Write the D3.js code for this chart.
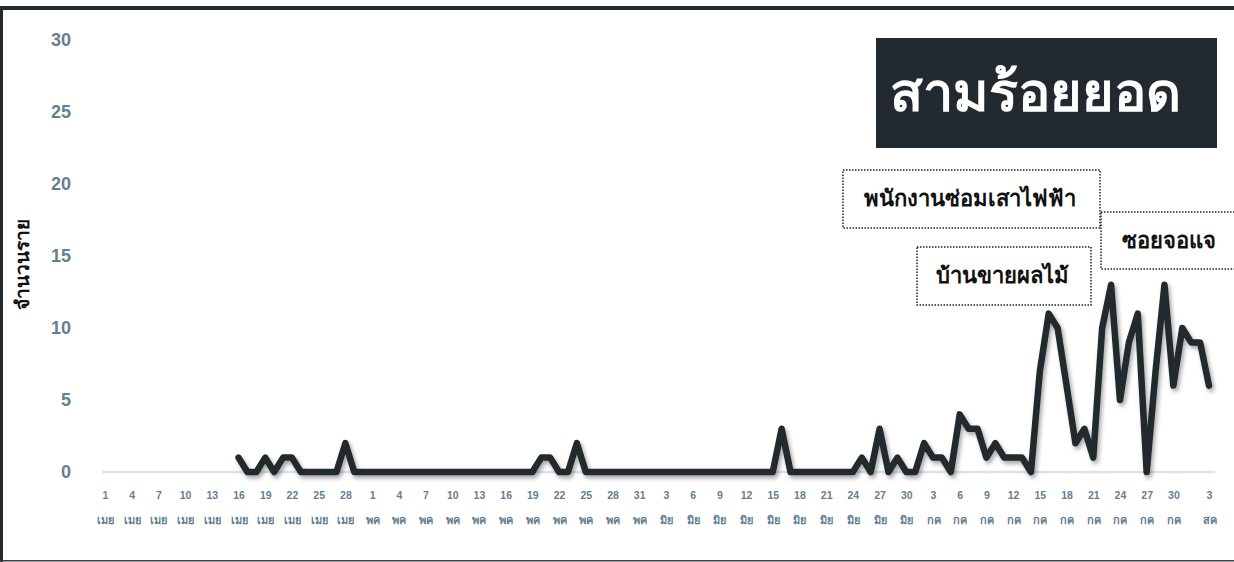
<!DOCTYPE html>
<html><head><meta charset="utf-8">
<script src="https://cdn.jsdelivr.net/npm/d3@7"></script>
<style>body{margin:0;background:#fff} svg{display:block}</style>
</head><body><svg id="c" width="1234" height="562"></svg>
<script>
// ---- data ----
const startDate = "2021-04-16";
const cases = [
  // Apr 16-30
  1,0,0,1,0,1,1,0,0,0,0,0,2,0,0,
  // May 1-31
  0,0,0,0,0,0,0,0,0,0,0,0,0,0,0,0,0,0,0,1,1,0,0,2,0,0,0,0,0,0,0,
  // Jun 1-30
  0,0,0,0,0,0,0,0,0,0,0,0,0,0,0,3,0,0,0,0,0,0,0,0,1,0,3,0,1,0,
  // Jul 1-31
  0,2,1,1,0,4,3,3,1,2,1,1,1,0,7,11,10,6,2,3,1,10,13,5,9,11,0,7,13,6,10,
  // Aug 1-3
  9,9,6
];
const tickDates = [
  "2021-04-01","2021-04-04","2021-04-07","2021-04-10","2021-04-13","2021-04-16","2021-04-19","2021-04-22","2021-04-25","2021-04-28",
  "2021-05-01","2021-05-04","2021-05-07","2021-05-10","2021-05-13","2021-05-16","2021-05-19","2021-05-22","2021-05-25","2021-05-28","2021-05-31",
  "2021-06-03","2021-06-06","2021-06-09","2021-06-12","2021-06-15","2021-06-18","2021-06-21","2021-06-24","2021-06-27","2021-06-30",
  "2021-07-03","2021-07-06","2021-07-09","2021-07-12","2021-07-15","2021-07-18","2021-07-21","2021-07-24","2021-07-27","2021-07-30",
  "2021-08-03"
];
const monthNames = ["มค","กพ","มีค","เมย","พค","มิย","กค","สค","กย","ตค","พย","ธค"];
const yTicks = [0,5,10,15,20,25,30];
const title = "สามร้อยยอด";
const yLabel = "จำนวนราย";
const annotations = [
  {text:"พนักงานซ่อมเสาไฟฟ้า", date:"2021-07-10"},
  {text:"ซอยจอแจ", date:"2021-07-29"},
  {text:"บ้านขายผลไม้", date:"2021-07-04"}
];

// ---- drawing ----
const parse = d3.timeParse("%Y-%m-%d");
const t0 = parse(startDate);
const series = cases.map((v,i)=>({date:d3.timeDay.offset(t0,i), value:v}));

const svg = d3.select("#c");
const W = 1234, H = 562;
const slate = "#647f90";
const dark = "#22292f";

const x = d3.scaleTime().domain([parse("2021-04-01"), parse("2021-08-03")]).range([105, 1209]);
const y = d3.scaleLinear().domain([0,30]).range([472, 40]);

const defs = svg.append("defs");
const f = defs.append("filter").attr("id","sh").attr("x","-5%").attr("y","-20%").attr("width","110%").attr("height","140%");
f.append("feDropShadow").attr("dx",2).attr("dy",3).attr("stdDeviation",2.2).attr("flood-color","#000").attr("flood-opacity",0.35);

// frame
svg.append("rect").attr("x",0).attr("y",6).attr("width",W).attr("height",4).attr("fill",dark);
svg.append("rect").attr("x",0).attr("y",6).attr("width",3).attr("height",H-6).attr("fill",dark);
svg.append("rect").attr("x",0).attr("y",560).attr("width",W).attr("height",1.5).attr("fill","#3a4148");

// y axis
const yAxis = svg.append("g").attr("transform","translate(71,0)")
  .call(d3.axisLeft(y).tickValues(yTicks).tickSize(0).tickPadding(0));
yAxis.select(".domain").remove();
yAxis.selectAll("text").attr("fill",slate)
  .style("font-family","'Liberation Sans',Arial,sans-serif").style("font-weight","bold").style("font-size","18px");

// baseline
svg.append("line").attr("x1",102).attr("x2",1215).attr("y1",y(0)).attr("y2",y(0))
  .attr("stroke","#dce3e7").attr("stroke-width",2.5);

// x axis
const xAxis = svg.append("g").attr("transform","translate(0,492)")
  .call(d3.axisBottom(x).tickValues(tickDates.map(parse)).tickSize(0).tickPadding(0).tickFormat(d3.timeFormat("%-d")));
xAxis.select(".domain").remove();
xAxis.selectAll(".tick text").attr("fill",slate).attr("dy","0.71em")
  .style("font-family","'Liberation Sans',Arial,sans-serif").style("font-weight","bold").style("font-size","10.5px");
xAxis.selectAll(".tick").append("text")
  .attr("y",24).attr("dy","0.71em").attr("fill",slate).attr("text-anchor","middle")
  .style("font-weight","bold").style("font-size","11px")
  .text(d=>monthNames[d.getMonth()]);

// y label
svg.append("text").attr("transform","translate(29,264) rotate(-90)")
  .attr("text-anchor","middle").attr("fill","#111")
  .style("font-weight","bold").style("font-size","19px").text(yLabel);

// line
const line = d3.line().x(d=>x(d.date)).y(d=>y(d.value));
svg.append("path").datum(series).attr("d",line)
  .attr("fill","none").attr("stroke",dark).attr("stroke-width",6.5)
  .attr("stroke-linejoin","round").attr("stroke-linecap","round")
  .attr("filter","url(#sh)");

// title box
svg.append("rect").attr("x",876).attr("y",38).attr("width",341).attr("height",110).attr("fill",dark);
svg.append("text").attr("x",1035).attr("y",111).attr("text-anchor","middle").attr("fill","#fff")
  .style("font-weight","bold").style("font-size","54px").text(title);

// annotation boxes
const boxes = [
  {x:843, y:170, w:257, h:58, tx:970, ty:198, i:0},
  {x:1101, y:212, w:160, h:57, tx:1169, ty:240, i:1},
  {x:917, y:247, w:174, h:58, tx:1002, ty:275, i:2}
];
boxes.forEach(b=>{
  svg.append("rect").attr("x",b.x).attr("y",b.y).attr("width",b.w).attr("height",b.h)
    .attr("fill","#fff").attr("stroke","#222").attr("stroke-width",1.5).attr("stroke-dasharray","1.5,1.5");
  svg.append("text").attr("x",b.tx).attr("y",b.ty).attr("dy","0.35em").attr("text-anchor","middle")
    .attr("fill","#111").style("font-weight","bold").style("font-size","22px").text(annotations[b.i].text);
});
</script></body></html>
